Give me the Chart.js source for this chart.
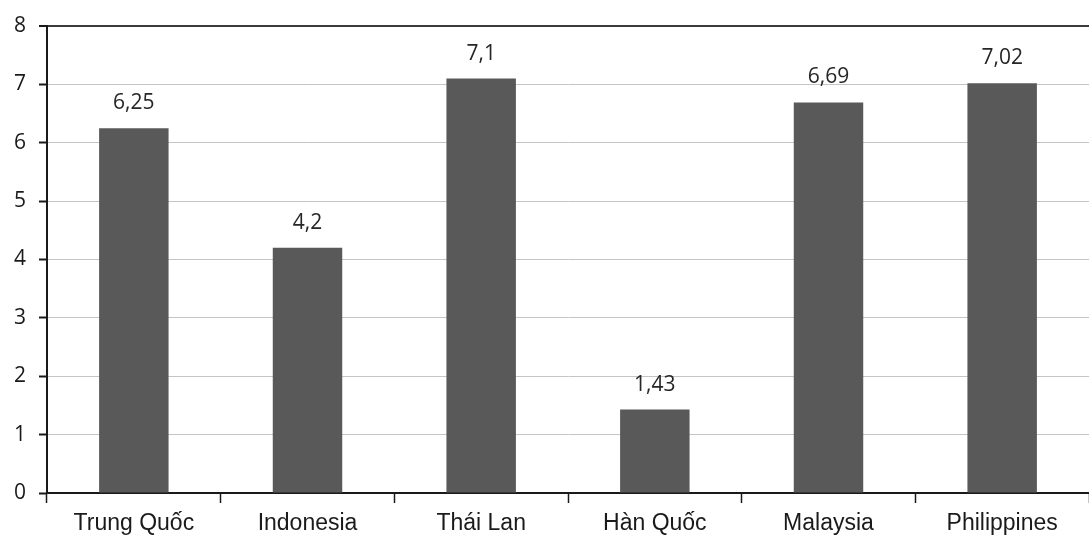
<!DOCTYPE html>
<html>
<head>
<meta charset="utf-8">
<script src="https://cdn.jsdelivr.net/npm/chart.js@4.4.1/dist/chart.umd.min.js"></script>
<style>
  html, body { margin: 0; padding: 0; background: #fff; }
  #wrap { width: 1089px; height: 538px; position: relative; }
</style>
</head>
<body>
<div id="wrap"><canvas id="c" width="1089" height="538"></canvas></div>
<script>
// Categories and values
const categories = ['Trung Quốc', 'Indonesia', 'Thái Lan', 'Hàn Quốc', 'Malaysia', 'Philippines'];
const values = [6.25, 4.2, 7.1, 1.43, 6.69, 7.02];
const yTicks = [0, 1, 2, 3, 4, 5, 6, 7, 8];

// Value labels drawn above each bar, with decimal comma
const valueLabels = {
  id: 'valueLabels',
  afterDatasetsDraw(chart) {
    const ctx = chart.ctx;
    const meta = chart.getDatasetMeta(0);
    ctx.save();
    ctx.font = '21px "Open Sans", "Noto Sans", sans-serif';
    ctx.fillStyle = '#262626';
    ctx.textAlign = 'center';
    ctx.textBaseline = 'middle';
    meta.data.forEach((bar, i) => {
      const txt = String(values[i]).replace('.', ',');
      ctx.fillText(txt, bar.x, bar.y - 25);
    });
    ctx.restore();
  }
};

new Chart(document.getElementById('c'), {
  type: 'bar',
  data: {
    labels: categories,
    datasets: [{
      data: values,
      backgroundColor: '#595959',
      borderWidth: 0,
      categoryPercentage: 1.0,
      barPercentage: 0.4
    }]
  },
  options: {
    responsive: false,
    animation: false,
    layout: { padding: { top: 26, right: 0, left: 0, bottom: 0 } },
    plugins: {
      legend: { display: false },
      tooltip: { enabled: false }
    },
    scales: {
      x: {
        offset: true,
        grid: {
          offset: true,
          drawOnChartArea: false,
          drawTicks: true,
          tickLength: 10,
          tickColor: '#1a1a1a',
          tickWidth: 1.5
        },
        border: { display: true, color: '#1a1a1a', width: 2 },
        ticks: {
          color: '#1a1a1a',
          font: { family: '"Liberation Sans", Arial, sans-serif', size: 23 },
          padding: 7
        },
        afterFit(scale) { scale.height = 45; }
      },
      y: {
        min: 0,
        max: 8,
        afterBuildTicks(scale) { scale.ticks = yTicks.map(v => ({ value: v })); },
        grid: {
          color: ctx => (ctx.tick && ctx.tick.value === 8) ? '#3a3a3a' : '#c4c4c4',
          lineWidth: ctx => (ctx.tick && ctx.tick.value === 8) ? 2 : 1,
          drawTicks: true,
          tickLength: 8,
          tickColor: '#1a1a1a',
          tickWidth: 2
        },
        border: { display: true, color: '#1a1a1a', width: 2 },
        ticks: {
          color: '#1a1a1a',
          font: { family: '"Open Sans", "Noto Sans", sans-serif', size: 21 },
          padding: 13
        },
        afterFit(scale) { scale.width = 47; }
      }
    }
  },
  plugins: [valueLabels]
});
</script>
</body>
</html>
